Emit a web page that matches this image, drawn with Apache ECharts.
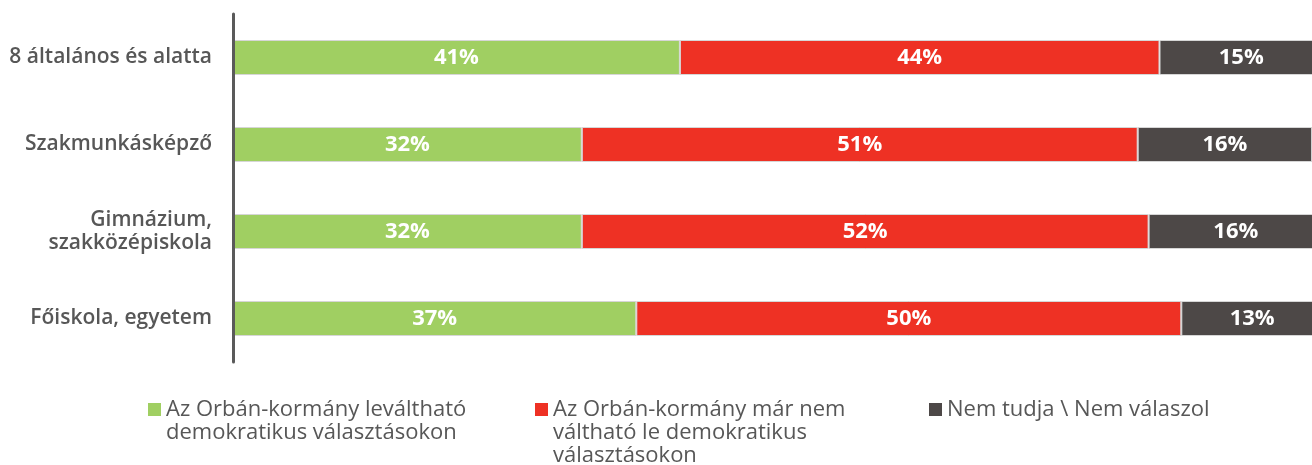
<!DOCTYPE html>
<html>
<head>
<meta charset="utf-8">
<style>
  html, body { margin: 0; padding: 0; background: #ffffff; }
  #chart { width: 1312px; height: 465px; }
</style>
<script src="https://cdn.jsdelivr.net/npm/echarts@6/dist/echarts.min.js"></script>
</head>
<body>
<div id="chart"></div>
<script>
// Education levels (top to bottom)
const categories = [
  '8 általános és alatta',
  'Szakmunkásképző',
  'Gimnázium,\nszakközépiskola',
  'Főiskola, egyetem'
];

// Answer options
const seriesNames = [
  'Az Orbán-kormány leváltható\ndemokratikus választásokon',
  'Az Orbán-kormány már nem\nváltható le demokratikus\nválasztásokon',
  'Nem tudja \\ Nem válaszol'
];

// Shares in percent
const replaceable = [41, 32, 32, 37];
const notReplaceable = [44, 51, 52, 50];
const dontKnow = [15, 16, 16, 13];

const colors = ['#a0cf62', '#ee3124', '#4d4847'];
const textGray = '#575757';
const fontFamily = '"Open Sans", "Noto Sans", sans-serif';

const chart = echarts.init(document.getElementById('chart'), null, { renderer: 'canvas' });

function barSeries(name, data, color) {
  return {
    name: name,
    type: 'bar',
    stack: 'total',
    data: data,
    barWidth: 35,
    itemStyle: { color: color, borderColor: '#d6d6d6', borderWidth: 1 },
    label: {
      show: true,
      position: 'inside',
      formatter: '{c}%',
      color: '#ffffff',
      fontFamily: fontFamily,
      fontWeight: 'bold',
      fontSize: 22
    },
    emphasis: { disabled: true }
  };
}

// One legend block per series; leading blank lines keep the marker level with the first text line
const lineH = 23;
function legendBlock(name, left, top) {
  const lines = name.split('\n').length;
  const lead = '\n'.repeat(lines - 1);
  return {
    data: [name],
    left: left,
    top: top,
    orient: 'vertical',
    padding: 0,
    itemWidth: 13,
    itemHeight: 13,
    icon: 'rect',
    itemStyle: { borderWidth: 0 },
    selectedMode: false,
    formatter: function (n) { return lead + n; },
    textStyle: {
      color: textGray,
      fontFamily: fontFamily,
      fontSize: 22,
      lineHeight: lineH
    }
  };
}

chart.setOption({
  animation: false,
  color: colors,
  // the axis runs a little past the right edge, so 100% ends just outside the canvas
  grid: {
    left: 233, width: 1090, top: 14, bottom: 103,
    containLabel: false, outerBoundsMode: 'none'
  },
  xAxis: {
    type: 'value',
    min: 0,
    max: 100,
    show: false
  },
  yAxis: {
    type: 'category',
    data: categories,
    inverse: true,
    axisLine: { show: true, lineStyle: { color: '#5a5a5a', width: 3 } },
    axisTick: { show: false },
    axisLabel: {
      margin: 21,
      color: textGray,
      fontFamily: fontFamily,
      fontWeight: 600,
      fontSize: 21,
      lineHeight: 23,
      align: 'right'
    },
    z: 5
  },
  legend: [
    legendBlock(seriesNames[0], 148, 375),
    legendBlock(seriesNames[1], 535, 352),
    legendBlock(seriesNames[2], 929, 398)
  ],
  series: [
    barSeries(seriesNames[0], replaceable, colors[0]),
    barSeries(seriesNames[1], notReplaceable, colors[1]),
    barSeries(seriesNames[2], dontKnow, colors[2])
  ]
});
</script>
</body>
</html>
